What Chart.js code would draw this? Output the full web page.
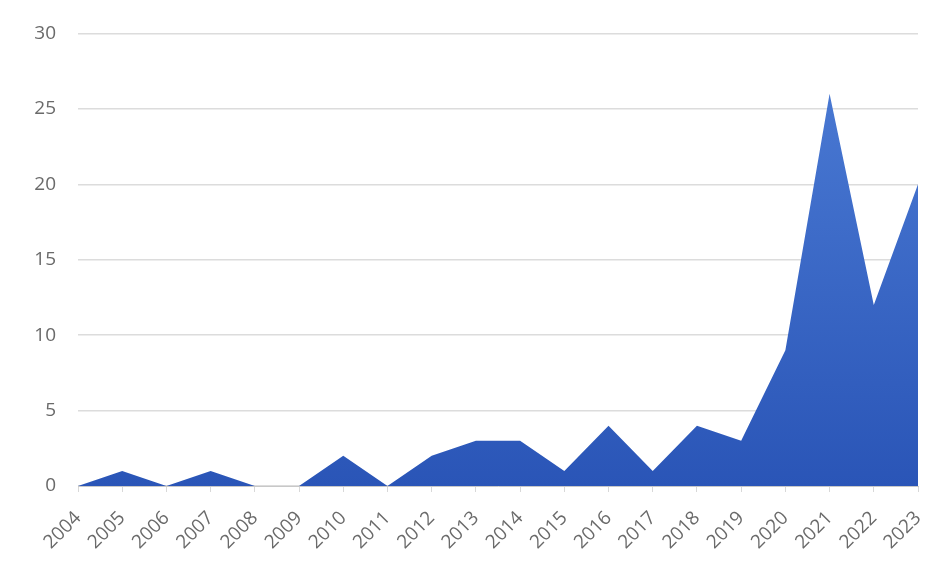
<!DOCTYPE html>
<html>
<head>
  <script src="https://cdn.jsdelivr.net/npm/chart.js@4/dist/chart.umd.min.js"></script>
  <style>
    html, body { margin: 0; padding: 0; background: #fff; }
    #wrap { width: 940px; height: 567px; }
  </style>
</head>
<body>
  <div id="wrap"><canvas id="graph" width="940" height="567"></canvas></div>
  <script>
    // publications per year
    var years = ['2004', '2005', '2006', '2007', '2008', '2009', '2010', '2011', '2012', '2013',
                 '2014', '2015', '2016', '2017', '2018', '2019', '2020', '2021', '2022', '2023'];
    var counts = [0, 1, 0, 1, 0, 0, 2, 0, 2, 3, 3, 1, 4, 1, 4, 3, 9, 26, 12, 20];
    var yMax = 30;
    var yStep = 5;

    var textColor = '#6a6a6a';

    function areaFill(context) {
      var chart = context.chart;
      var area = chart.chartArea;
      if (!area) return '#3a65c4';
      var g = chart.ctx.createLinearGradient(0, area.top, 0, area.bottom);
      g.addColorStop(0, '#4d7dd6');
      g.addColorStop(1, '#2a55b7');
      return g;
    }

    var ctx = document.getElementById('graph');
    var chart = new Chart(ctx, {
      type: 'line',
      data: {
        labels: years,
        datasets: [{
          data: counts,
          fill: 'origin',
          backgroundColor: areaFill,
          borderWidth: 0,
          pointRadius: 0,
          tension: 0
        }]
      },
      options: {
        responsive: false,
        animation: false,
        layout: { padding: { top: 31, right: 22, left: 0, bottom: 0 } },
        plugins: { legend: { display: false }, tooltip: { enabled: false } },
        scales: {
          x: {
            offset: false,
            border: { display: true, color: '#c8c8c8', width: 1 },
            grid: { display: true, drawOnChartArea: false, drawTicks: true, tickLength: 6, color: '#d8d8d8' },
            ticks: {
              color: textColor,
              font: { family: 'Open Sans', size: 19 },
              minRotation: 45,
              maxRotation: 45,
              autoSkip: false,
              padding: 15
            },
            afterFit: function (axis) {
              axis.height = 81;
              axis.paddingLeft = 0;
              axis.paddingRight = 0;
            }
          },
          y: {
            min: 0,
            max: yMax,
            border: { display: false },
            grid: { color: '#dcdcdc', lineWidth: 1.5, drawTicks: false },
            ticks: {
              stepSize: yStep,
              color: textColor,
              font: { family: 'Open Sans', size: 19 },
              padding: 22
            },
            afterFit: function (axis) { axis.width = 78; }
          }
        }
      }
    });
  </script>
</body>
</html>
